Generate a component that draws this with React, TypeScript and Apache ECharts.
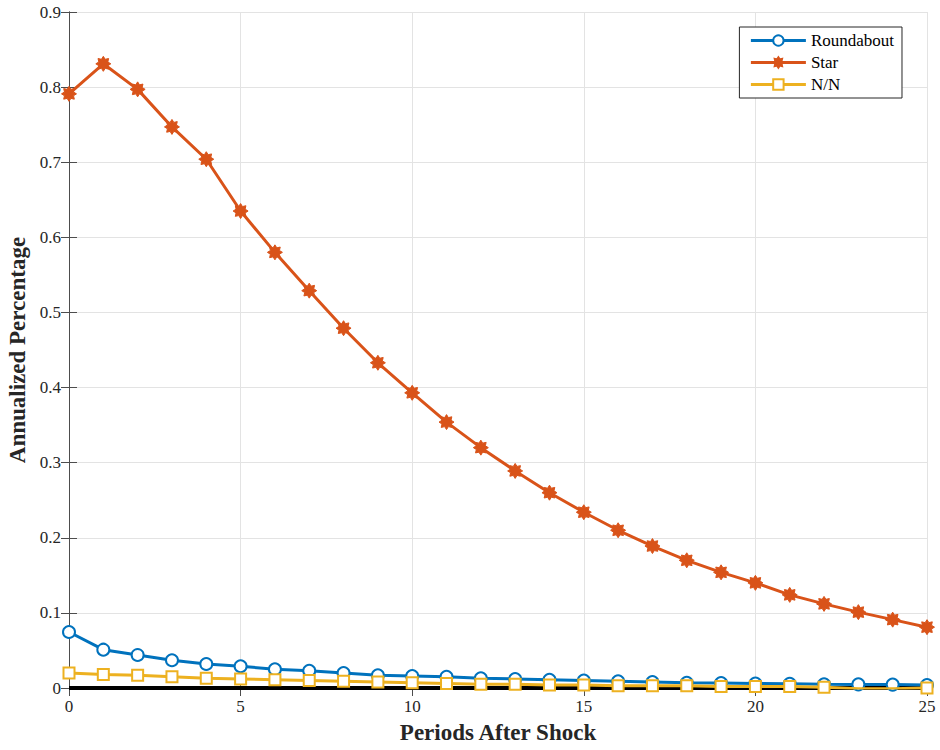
import React, { useEffect, useRef } from "react";
import * as echarts from "echarts";

const periods = [0,1,2,3,4,5,6,7,8,9,10,11,12,13,14,15,16,17,18,19,20,21,22,23,24,25];
const roundabout = [0.0746,0.051,0.044,0.037,0.032,0.029,0.025,0.023,0.020,0.017,0.016,0.015,0.013,0.012,0.011,0.010,0.009,0.008,0.007,0.0065,0.006,0.0055,0.005,0.0048,0.0045,0.004];
const star = [0.791,0.831,0.797,0.747,0.704,0.635,0.580,0.529,0.479,0.433,0.393,0.354,0.320,0.289,0.260,0.234,0.210,0.189,0.170,0.154,0.140,0.124,0.112,0.101,0.091,0.081];
const nn = [0.020,0.018,0.017,0.015,0.013,0.012,0.011,0.010,0.009,0.008,0.007,0.006,0.005,0.005,0.004,0.004,0.003,0.003,0.003,0.002,0.002,0.002,0.001,-0.001,-0.001,0.0];
const seriesNames = ["Roundabout", "Star", "N/N"];
const yTicks = ["0","0.1","0.2","0.3","0.4","0.5","0.6","0.7","0.8","0.9"];

function starPath(): string {
  const pts: string[] = [];
  const n = 8;
  for (let i = 0; i < n * 2; i++) {
    const r = i % 2 === 0 ? 10 : 6.5;
    const a = (Math.PI * i) / n;
    pts.push(`${(10 + r * Math.sin(a)).toFixed(2)} ${(10 - r * Math.cos(a)).toFixed(2)}`);
  }
  return "path://M" + pts.join(" L") + " Z";
}

export default function App() {
  const ref = useRef<HTMLDivElement>(null);
  useEffect(() => {
    if (!ref.current) return;
    const chart = echarts.init(ref.current, undefined, { renderer: "svg" });
    const font = "'Liberation Serif', 'Times New Roman', serif";
    const axisColor = "#4d4d4d";
    const mk = (arr: number[]) => periods.map((p, i) => [p, arr[i]]);
    chart.setOption({
      animation: false,
      backgroundColor: "#ffffff",
      textStyle: { fontFamily: font },
      grid: { left: 69, right: 13, top: 12, bottom: 62, containLabel: false, outerBoundsMode: "none" },
      legend: {
        orient: "vertical",
        right: 38,
        top: 27,
        itemWidth: 55,
        itemHeight: 13,
        itemGap: 5,
        padding: [5, 8, 5, 10],
        backgroundColor: "#ffffff",
        borderColor: "#262626",
        borderWidth: 1,
        borderRadius: 0,
        lineStyle: { width: 3 },
        textStyle: { fontFamily: font, fontSize: 17, color: "#000" },
        data: seriesNames,
      },
      xAxis: [
        {
          type: "value", min: 0, max: 25, interval: 5,
          name: "Periods After Shock", nameLocation: "middle", nameGap: 33,
          nameTextStyle: { fontFamily: font, fontSize: 23, fontWeight: "bold", color: "#262626" },
          axisLine: { show: true, lineStyle: { color: axisColor, width: 1 } },
          axisTick: { show: true, inside: true, length: 8, lineStyle: { color: axisColor } },
          axisLabel: { fontFamily: font, fontSize: 17, color: "#262626", margin: 10 },
          splitLine: { show: true, lineStyle: { color: "#e3e3e3", width: 1 } },
        },
        {
          type: "value", min: 0, max: 25, interval: 5, position: "top",
          axisLine: { show: true, lineStyle: { color: axisColor, width: 1 } },
          axisTick: { show: true, inside: true, length: 8, lineStyle: { color: axisColor } },
          axisLabel: { show: false },
          splitLine: { show: false },
        },
      ],
      yAxis: [
        {
          type: "value", min: 0, max: 0.9, interval: 0.1,
          name: "Annualized Percentage", nameLocation: "middle", nameGap: 38,
          nameTextStyle: { fontFamily: font, fontSize: 23, fontWeight: "bold", color: "#262626" },
          axisLine: { show: true, lineStyle: { color: axisColor, width: 1 } },
          axisTick: { show: true, inside: true, length: 8, lineStyle: { color: axisColor } },
          axisLabel: {
            fontFamily: font, fontSize: 17, color: "#262626", margin: 8,
            formatter: (v: number) => yTicks[Math.round(v * 10)] ?? String(v),
          },
          splitLine: { show: true, lineStyle: { color: "#e3e3e3", width: 1 } },
        },
        {
          type: "value", min: 0, max: 0.9, interval: 0.1, position: "right",
          axisLine: { show: true, lineStyle: { color: axisColor, width: 1 } },
          axisTick: { show: true, inside: true, length: 8, lineStyle: { color: axisColor } },
          axisLabel: { show: false },
          splitLine: { show: false },
        },
      ],
      series: [
        {
          name: "Roundabout", type: "line", data: mk(roundabout), z: 5,
          symbol: "emptyCircle", symbolSize: 12,
          lineStyle: { color: "#0072BD", width: 3 },
          itemStyle: { color: "#0072BD", borderColor: "#0072BD", borderWidth: 3 },
          markLine: {
            silent: true, symbol: "none", label: { show: false },
            lineStyle: { color: "#000", width: 4, type: "solid" },
            data: [[{ coord: [0, 0] }, { coord: [25, 0] }]],
            z: 3,
          },
        },
        {
          name: "Star", type: "line", data: mk(star), z: 6,
          symbol: starPath(), symbolSize: 15,
          lineStyle: { color: "#D95319", width: 3 },
          itemStyle: { color: "#D95319", borderColor: "#D95319", borderWidth: 1 },
        },
        {
          name: "N/N", type: "line", data: mk(nn), z: 7,
          symbol: "emptyRect", symbolSize: 11,
          lineStyle: { color: "#EDB120", width: 3 },
          itemStyle: { color: "#EDB120", borderColor: "#EDB120", borderWidth: 3 },
        },
      ],
    });
    return () => chart.dispose();
  }, []);
  return (
    <div
      ref={ref}
      style={{ position: "fixed", left: 0, top: 0, width: 940, height: 750, background: "#fff" }}
    />
  );
}
